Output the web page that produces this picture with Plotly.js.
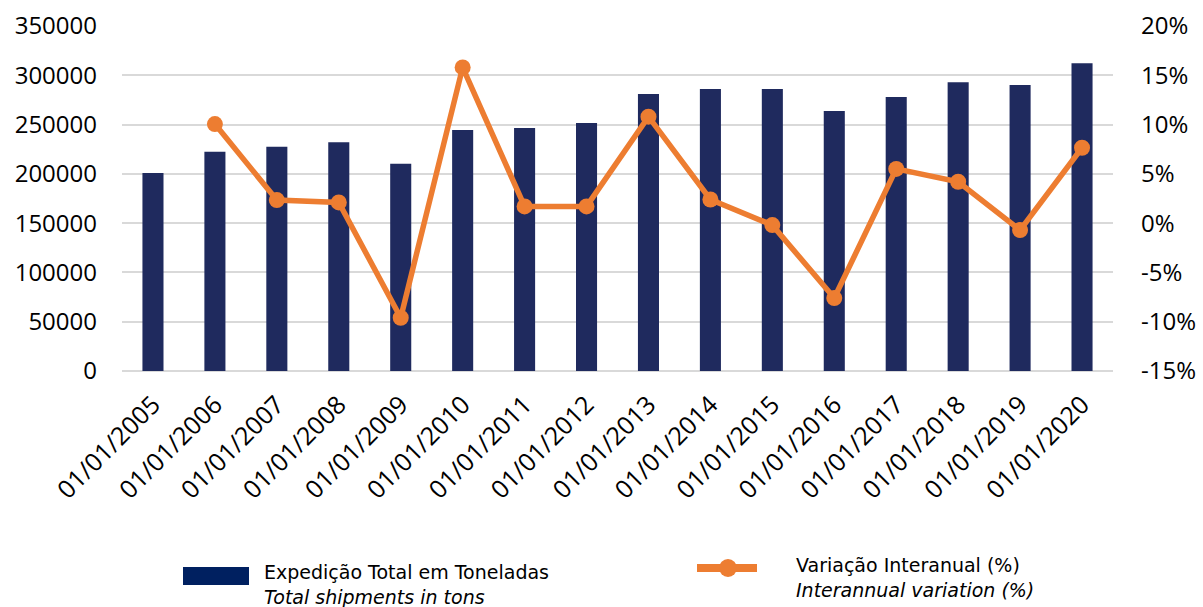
<!DOCTYPE html>
<html>
<head>
<meta charset="utf-8">
<script src="https://cdn.plot.ly/plotly-3.0.1.min.js"></script>
<style>html,body{margin:0;padding:0;background:#fff;}#chart{width:1203px;height:607px;}</style>
</head>
<body>
<div id="chart"></div>
<script>
const categories = ["01/01/2005","01/01/2006","01/01/2007","01/01/2008","01/01/2009","01/01/2010","01/01/2011","01/01/2012","01/01/2013","01/01/2014","01/01/2015","01/01/2016","01/01/2017","01/01/2018","01/01/2019","01/01/2020"];
const shipments = [200900, 222500, 227600, 232000, 210300, 244500, 246500, 251600, 281000, 286000, 286000, 263800, 278000, 292900, 290100, 312100];
const variation = [null, 0.1005, 0.0234, 0.021, -0.096, 0.158, 0.017, 0.017, 0.108, 0.024, -0.002, -0.076, 0.055, 0.042, -0.007, 0.0765];
const leftTicks = [0, 50000, 100000, 150000, 200000, 250000, 300000, 350000];
const rightTickVals = [-0.15, -0.10, -0.05, 0, 0.05, 0.10, 0.15, 0.20];
const rightTickText = ["-15%", "-10%", "-5%", "0%", "5%", "10%", "15%", "20%"];
const barNamePT = "Expedição Total em Toneladas";
const barNameEN = "Total shipments in tons";
const lineNamePT = "Variação Interanual (%)";
const lineNameEN = "Interannual variation (%)";

const font = "Open Sans, Lato, sans-serif";
const legendFontFamily = "DejaVu Sans, Verdana, sans-serif";
const W = 1203, H = 607;
const M = {l:122, r:90, t:26, b:236};
const PW = W - M.l - M.r, PH = H - M.t - M.b;
// pixel -> paper helpers (layout only)
const px = v => (v - M.l) / PW;
const py = v => (H - M.b - v) / PH;

const barColor = "#1F2A5E";
const lineColor = "#ED7D31";

const traces = [
  {type:"bar", x:categories, y:shipments, name:barNamePT, marker:{color:barColor}, width:0.34, yaxis:"y"},
  {type:"scatter", mode:"lines+markers", x:categories, y:variation, name:lineNamePT, yaxis:"y2",
   line:{color:lineColor, width:5.5}, marker:{color:lineColor, size:16}, connectgaps:false}
];

const legFont = {family:legendFontFamily, size:19, color:"#000"};
const ann = (x, yTop, pt, en) => ({xref:"paper", yref:"paper", x:px(x), y:py(yTop), xanchor:"left", yanchor:"top",
  text: pt + "<br><i>" + en + "</i>", showarrow:false, font:legFont, align:"left", borderpad:0});

const layout = {
  width:W, height:H,
  margin:M,
  paper_bgcolor:"#fff", plot_bgcolor:"#fff",
  font:{family:font, size:24, color:"#000"},
  showlegend:false,
  xaxis:{type:"category", range:[-0.5, categories.length - 0.5], tickangle:-45, showgrid:false, showline:false,
         ticks:"", automargin:false, ticklabelstandoff:13, tickfont:{family:font, size:25, color:"#000"}},
  yaxis:{range:[0,350000], tickvals:leftTicks, ticktext:leftTicks.map(String), showgrid:true, automargin:false,
         gridcolor:"#D9D9D9", gridwidth:2, zeroline:true, zerolinecolor:"#D9D9D9", zerolinewidth:2,
         showline:false, ticks:"", ticklabelstandoff:24, tickfont:{family:font, size:24, color:"#000"}},
  yaxis2:{range:[-0.15,0.20], overlaying:"y", side:"right", tickvals:rightTickVals, ticktext:rightTickText, automargin:false,
          showgrid:false, zeroline:false, showline:false, ticks:"", ticklabelstandoff:27,
          tickfont:{family:font, size:24, color:"#000"}},
  shapes:[
    {type:"rect", xref:"paper", yref:"paper", x0:px(183), x1:px(249), y0:py(585), y1:py(567),
     fillcolor:"#002060", line:{width:0}},
    {type:"line", xref:"paper", yref:"paper", x0:px(697), x1:px(757), y0:py(568), y1:py(568),
     line:{color:lineColor, width:8}},
    {type:"circle", xref:"paper", yref:"paper", x0:px(719), x1:px(737), y0:py(577), y1:py(559),
     fillcolor:lineColor, line:{width:0}}
  ],
  annotations:[
    ann(263, 560, barNamePT, barNameEN),
    ann(795, 553, lineNamePT, lineNameEN)
  ]
};
Plotly.newPlot("chart", traces, layout, {displayModeBar:false, staticPlot:true});
</script>
</body>
</html>
